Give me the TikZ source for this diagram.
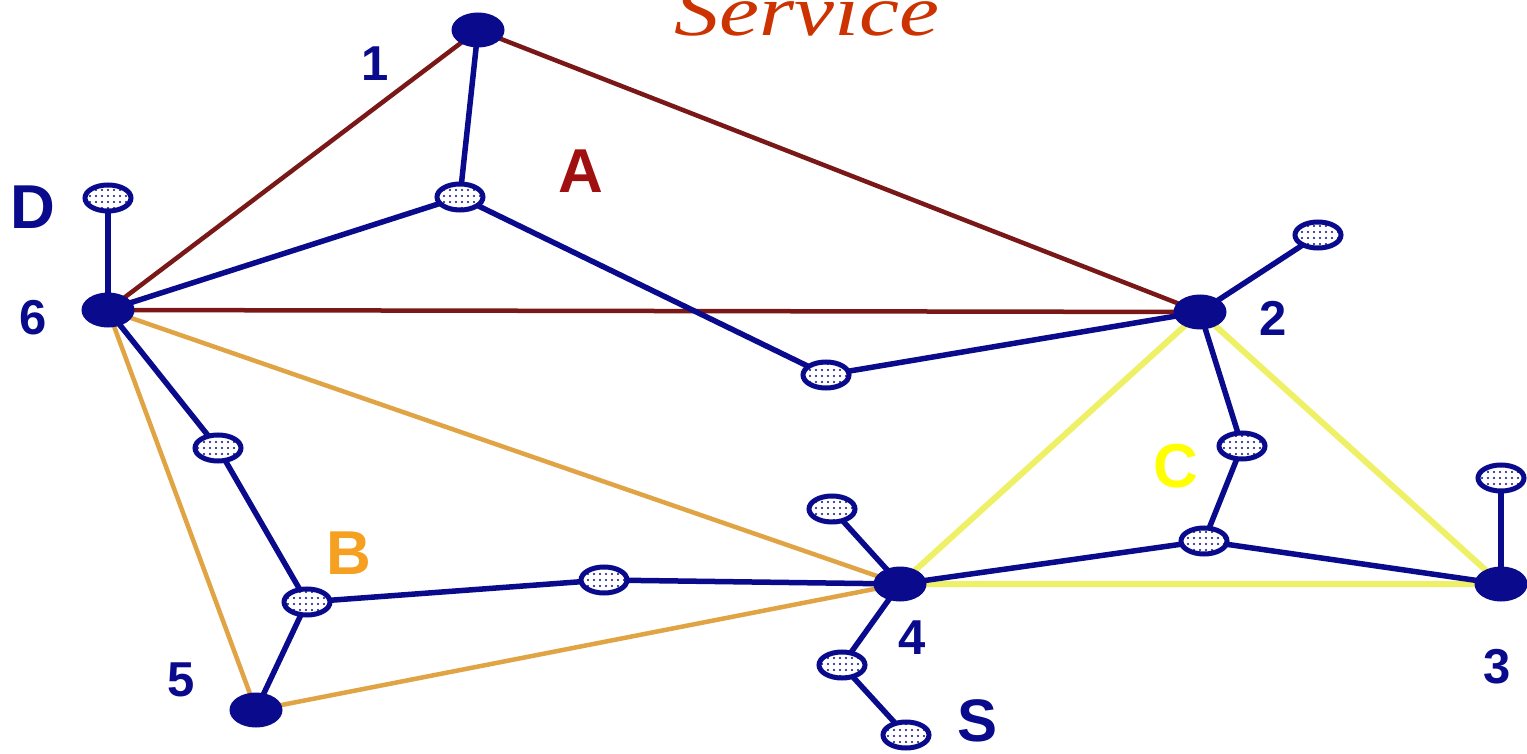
\documentclass[tikz,border=0pt]{standalone}
\usepackage{fontspec}
\setmainfont{Liberation Sans}
\newfontfamily\titlefont{Liberation Serif}
\usetikzlibrary{shapes.geometric,patterns.meta,backgrounds}
\definecolor{netblue}{HTML}{0A0A8C}
\definecolor{linkred}{HTML}{7A1818}
\definecolor{textred}{HTML}{A01010}
\definecolor{linkorange}{HTML}{E0A444}
\definecolor{textorange}{HTML}{F5A020}
\definecolor{linkyellow}{HTML}{EEF066}
\definecolor{textyellow}{HTML}{FFFF00}
\definecolor{titlecol}{HTML}{CC3300}
\tikzset{
  router/.style={ellipse, fill=netblue, minimum width=53pt, minimum height=35pt, inner sep=0pt},
  host/.style={ellipse, draw=netblue, line width=5pt, minimum width=46pt, minimum height=26pt, inner sep=0pt,
    preaction={fill=white}, pattern={Dots[radius=1.2pt, distance=6pt]}, pattern color=netblue},
  lan/.style={draw=netblue, line width=5.5pt},
  ringA/.style={draw=linkred, line width=4.5pt},
  ringB/.style={draw=linkorange, line width=4.5pt},
  ringC/.style={draw=linkyellow, line width=6pt},
  num/.style={inner sep=0pt, text=netblue, font=\fontsize{49}{49}\selectfont\bfseries},
  big/.style={inner sep=0pt, font=\fontsize{62}{62}\selectfont\bfseries},
}
\begin{document}
\begin{tikzpicture}[x=1pt, y=-1pt]
\useasboundingbox (0,0) rectangle (1527,754);

% routers
\node[router] (r1) at (478,30) {};
\node[router] (r6) at (108,310) {};
\node[router] (r2) at (1200,312) {};
\node[router] (r4) at (900,584) {};
\node[router] (r5) at (256,710) {};
\node[router] (r3) at (1501,584) {};

% hosts
\node[host] (hD) at (108,198) {};
\node[host] (hA1) at (460,197) {};
\node[host] (hA2) at (826,375) {};
\node[host] (h2t) at (1318,235) {};
\node[host] (h65) at (218,448) {};
\node[host] (hB1) at (307,602) {};
\node[host] (hB2) at (604,580) {};
\node[host] (h4t) at (832,509) {};
\node[host] (hS1) at (842,665) {};
\node[host] (hS2) at (906,735) {};
\node[host] (hC1) at (1242,446) {};
\node[host] (hC2) at (1204,541) {};
\node[host] (h3t) at (1501,478) {};

\begin{pgfonlayer}{background}
  \fill[white] (0,0) rectangle (1527,754);
  % overlay rings
  \path[ringA] (r6.center) -- (r1.center) -- (r2.center) -- cycle;
  \path[ringB] (r6.center) -- (r4.center) -- (r5.center) -- cycle;
  \path[ringC] (r2.center) -- (r4.center) -- (r3.center) -- cycle;
  % physical links
  \path[lan] (r6.center) -- (hD.center);
  \path[lan] (r1.center) -- (hA1.center);
  \path[lan] (r6.center) -- (hA1.center);
  \path[lan] (hA1.center) -- (hA2.center);
  \path[lan] (hA2.center) -- (r2.center);
  \path[lan] (r2.center) -- (h2t.center);
  \path[lan] (r6.center) -- (h65.center);
  \path[lan] (h65.center) -- (hB1.center);
  \path[lan] (hB1.center) -- (r5.center);
  \path[lan] (hB1.center) -- (hB2.center);
  \path[lan] (hB2.center) -- (r4.center);
  \path[lan] (r4.center) -- (h4t.center);
  \path[lan] (r4.center) -- (hS1.center);
  \path[lan] (hS1.center) -- (hS2.center);
  \path[lan] (r2.center) -- (hC1.center);
  \path[lan] (hC1.center) -- (hC2.center);
  \path[lan] (r4.center) -- (hC2.center);
  \path[lan] (hC2.center) -- (r3.center);
  \path[lan] (r3.center) -- (h3t.center);
\end{pgfonlayer}

% labels
\node[num] (l1) at (375,64) {1};
\node[num] (l6) at (33,318) {6};
\node[num] (l2) at (1273,318) {2};
\node[num] (l4) at (912,638) {4};
\node[num] (l5) at (181,680) {5};
\node[num] (l3) at (1497,667) {3};
\node[big, text=netblue] (lD) at (33,207) {D};
\node[big, text=netblue, font=\fontsize{60}{60}\selectfont\bfseries] (lS) at (978,721) {S};
\node[big, text=textred] (lA) at (581,171) {A};
\node[big, text=textorange] (lB) at (349,553) {B};
\node[big, text=textyellow] (lC) at (1176,466) {C};

% heading, partly above the frame
\node[anchor=base, inner sep=0pt, text=titlecol] (title) at (807,36)
  {\scalebox{1.25}[1]{\titlefont\itshape\fontsize{72}{72}\selectfont Service}};
\end{tikzpicture}
\end{document}
